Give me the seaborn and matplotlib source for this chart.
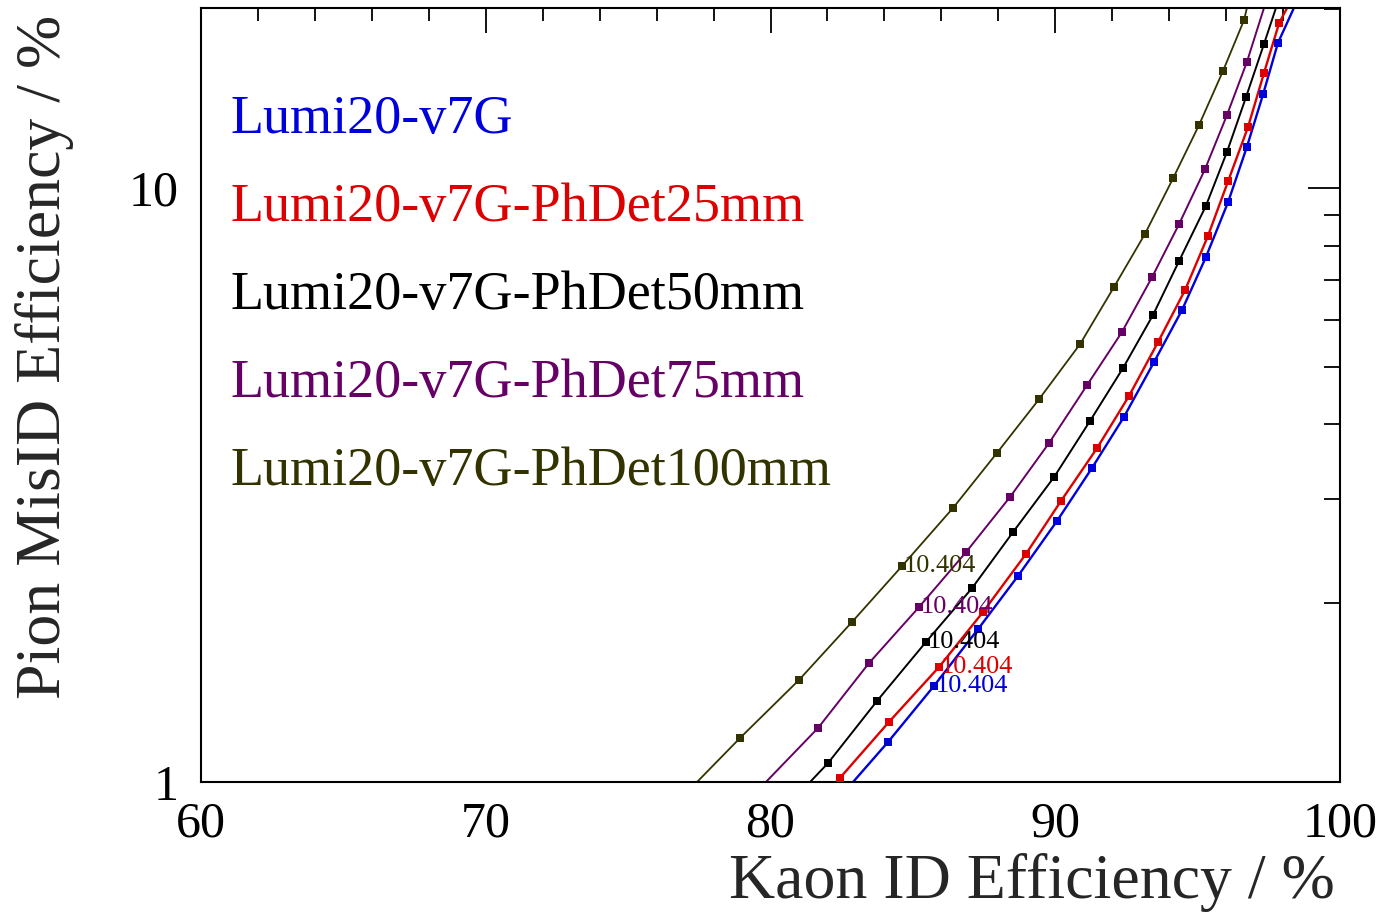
import numpy as np
import pandas as pd
import matplotlib
matplotlib.use("Agg")
import matplotlib.pyplot as plt
import seaborn as sns
from matplotlib.ticker import FixedLocator, NullFormatter, LogLocator, MultipleLocator

# ---------------- data ----------------
series_names = ["Lumi20-v7G", "Lumi20-v7G-PhDet25mm", "Lumi20-v7G-PhDet50mm",
                "Lumi20-v7G-PhDet75mm", "Lumi20-v7G-PhDet100mm"]
series_colors = ["#0000dd", "#dd0000", "#000000", "#660066", "#333300"]

blue_x = [82.90, 84.13, 85.74, 87.29, 88.69, 90.06, 91.29, 92.41, 93.47, 94.45, 95.29, 96.07, 96.73, 97.30, 97.82, 98.38]
blue_y = [1.00, 1.168, 1.451, 1.809, 2.222, 2.75, 3.378, 4.116, 5.095, 6.23, 7.65, 9.47, 11.73, 14.39, 17.55, 20.1]

red_x = [82.30, 82.44, 84.16, 85.92, 87.46, 88.97, 90.20, 91.47, 92.59, 93.61, 94.56, 95.36, 96.07, 96.77, 97.33, 97.86, 98.14]
red_y = [1.00, 1.016, 1.262, 1.562, 1.932, 2.42, 2.972, 3.65, 4.466, 5.505, 6.735, 8.30, 10.27, 12.67, 15.62, 18.95, 20.1]

black_x = [81.39, 82.02, 83.74, 85.46, 87.08, 88.52, 89.96, 91.22, 92.38, 93.43, 94.35, 95.29, 96.03, 96.70, 97.33, 97.75]
black_y = [1.00, 1.076, 1.369, 1.721, 2.121, 2.636, 3.262, 4.053, 4.977, 6.11, 7.54, 9.33, 11.50, 14.23, 17.48, 20.1]

purple_x = [79.84, 81.67, 83.46, 85.22, 86.87, 88.41, 89.78, 91.12, 92.34, 93.40, 94.35, 95.26, 96.03, 96.73, 97.33]
purple_y = [1.00, 1.233, 1.586, 1.971, 2.439, 3.018, 3.72, 4.66, 5.72, 7.08, 8.70, 10.76, 13.27, 16.30, 20.1]

olive_x = [77.42, 78.93, 81.00, 82.86, 84.62, 86.41, 87.95, 89.43, 90.87, 92.06, 93.15, 94.14, 95.05, 95.89, 96.63, 96.73]
olive_y = [1.00, 1.186, 1.485, 1.859, 2.31, 2.893, 3.58, 4.41, 5.46, 6.81, 8.37, 10.39, 12.77, 15.74, 19.18, 20.1]

# the labelled working point of each curve
label_text = "10.404"
label_x = [85.74, 85.92, 85.46, 85.22, 84.62]
label_y = [1.451, 1.562, 1.721, 1.971, 2.31]

xs = [blue_x, red_x, black_x, purple_x, olive_x]
ys = [blue_y, red_y, black_y, purple_y, olive_y]
lws = [1.7, 1.7, 1.4, 1.4, 1.3]

# ---------------- figure ----------------
sns.set_theme(style="white")
plt.rcParams["font.family"] = ["Liberation Serif", "DejaVu Serif"]

fig = plt.figure(figsize=(13.99, 9.19), dpi=100)
ax = fig.add_axes([201 / 1399, 1 - 782 / 919, (1340 - 201) / 1399, (782 - 8) / 919])

for name, col, x, y, lw in zip(series_names, series_colors, xs, ys, lws):
    df = pd.DataFrame({"x": x, "y": y})
    sns.lineplot(data=df, x="x", y="y", ax=ax, color=col, lw=lw,
                 sort=False, estimator=None, legend=False)
    inner = df[(df["y"] > 1.0) & (df["y"] < 20.0)]
    sns.scatterplot(data=inner, x="x", y="y", ax=ax, color=col, marker="s",
                    s=38, edgecolor=col, linewidth=0, legend=False, zorder=3)

for col, lx, ly in zip(series_colors, label_x, label_y):
    ax.annotate(label_text, (lx, ly), xytext=(1, 0), textcoords="offset points",
                ha="left", va="center", color=col, fontsize=19)

ax.set_yscale("log")
ax.set_xlim(60, 100)
ax.set_ylim(1, 20.1)

ax.xaxis.set_major_locator(MultipleLocator(10))
ax.xaxis.set_minor_locator(MultipleLocator(2))
ax.yaxis.set_major_locator(FixedLocator([1, 10]))
ax.set_yticklabels(["1", "10"])
ax.yaxis.set_minor_locator(LogLocator(base=10, subs=np.arange(2, 10)))
ax.yaxis.set_minor_formatter(NullFormatter())

ax.tick_params(axis="both", which="both", direction="in", top=True, right=True,
               colors="black", width=1.3)
ax.tick_params(axis="x", which="major", length=18, labelsize=36, pad=14)
ax.tick_params(axis="x", which="minor", length=9)
ax.tick_params(axis="y", which="major", length=23, labelsize=36, pad=16)
ax.tick_params(axis="y", which="minor", length=11.5)
for sp in ax.spines.values():
    sp.set_color("black")
    sp.set_linewidth(1.5)

ax.set_xlabel("")
ax.set_ylabel("")
fig.text(1335 / 1399, 1 - 882 / 919, "Kaon ID Efficiency / %", ha="right", va="center",
         fontsize=46)
fig.text(45 / 1399, 1 - 15 / 919, "Pion MisID Efficiency / %", ha="center", va="top",
         rotation=90, fontsize=46)

# legend entries as coloured text
for i, (name, col) in enumerate(zip(series_names, series_colors)):
    fig.text(231 / 1399, 1 - (120 + 88 * i) / 919, name, ha="left", va="center",
             color=col, fontsize=39)

fig.savefig("out.png", dpi=100)
